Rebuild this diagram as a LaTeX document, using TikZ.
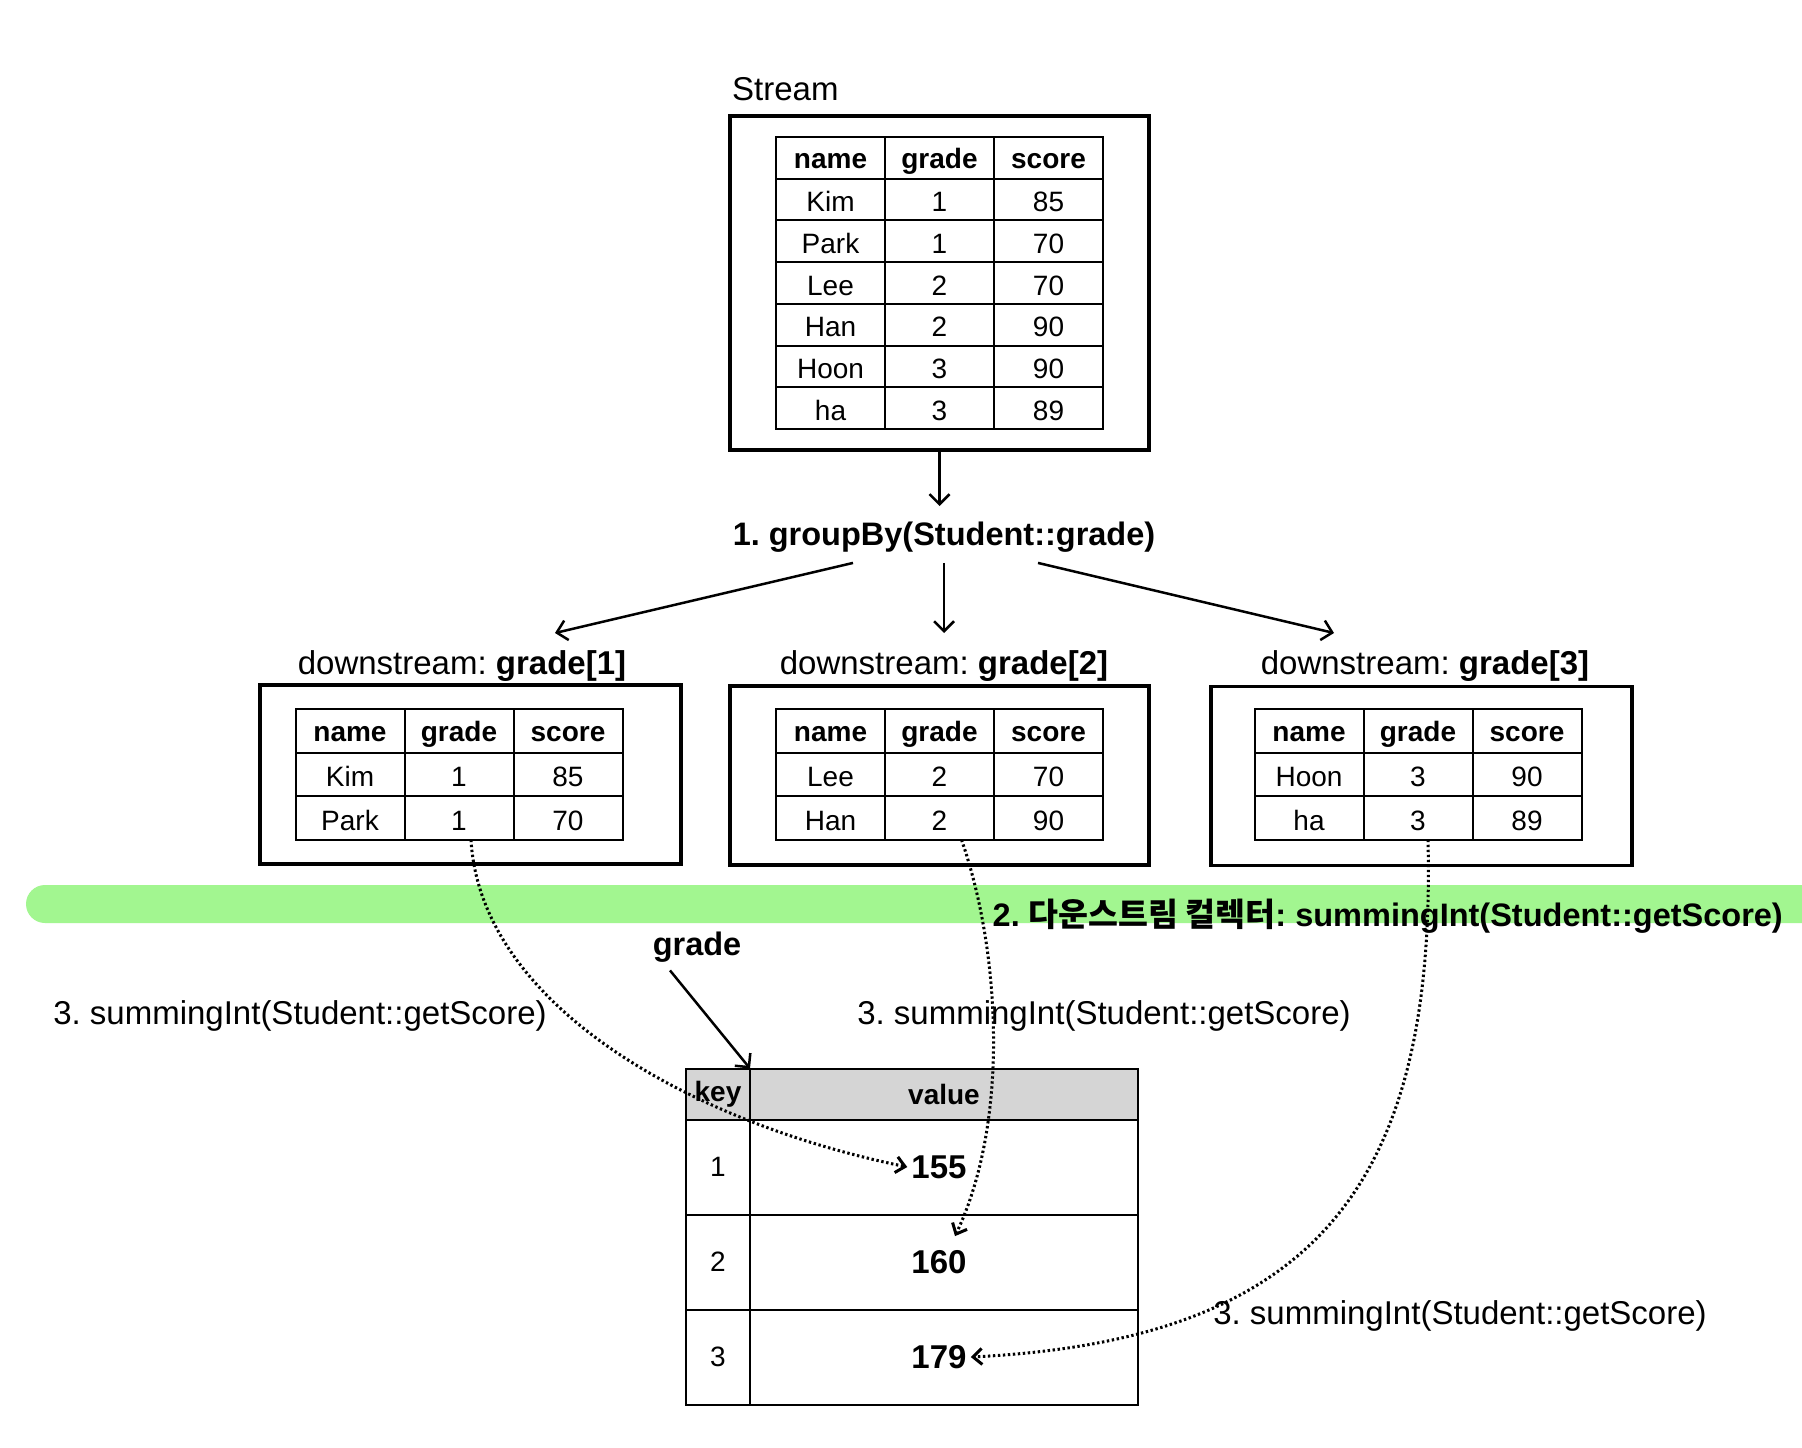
\documentclass[tikz,border=0pt]{standalone}
\usepackage{fontspec}
\setmainfont{Liberation Sans}
\newfontfamily\kr{Noto Sans CJK KR}
\usetikzlibrary{matrix,arrows.meta}
\definecolor{band}{RGB}{162,246,144}
\definecolor{hdr}{RGB}{213,213,213}
\tikzset{
  lbl/.style={inner sep=0pt, font=\fontsize{33}{40}\selectfont},
  blbl/.style={inner sep=0pt, font=\fontsize{32.5}{40}\selectfont\bfseries},
  frame/.style={draw, line width=3.5pt, inner sep=0pt},
  cell/.style={draw, line width=2pt, inner sep=0pt, outer sep=0pt, anchor=center,
    minimum width=109pt, text height=24pt, text depth=0pt,
    font=\fontsize{28}{34}\selectfont},
  datatable/.style={matrix of nodes, inner sep=0pt, outer sep=0pt,
    column sep=-2pt, row sep=-2pt, nodes={cell, minimum height=#1},
    row 1/.style={nodes={text height=21pt, font=\fontsize{28}{34}\selectfont\bfseries}}},
  arr/.style={line width=2.5pt, -{Straight Barb[length={10pt 0 0}, width={20pt 0 0}]}},
  dotarr/.style={line width=3pt, dash pattern=on 2.4pt off 2.6pt,
    -{Straight Barb[length={9pt 0 0}, width={16pt 0 0}]}},
  val/.style={inner sep=4pt, font=\fontsize{33}{40}\selectfont\bfseries},
}
\frenchspacing
\begin{document}
\begin{tikzpicture}[x=1pt, y=-1pt]
\useasboundingbox (0,0) rectangle (1802,1448);
\fill[white] (0,0) rectangle (1802,1448);

% collector band
\fill[band, rounded corners=19pt] (26,885) rectangle (1850,923);

% source stream
\node[lbl, anchor=west] (slbl) at (732,89) {Stream};
\node[frame, minimum width=419pt, minimum height=334pt] (stream) at (939.5,283) {};
\matrix (st) [datatable=41.7pt] at (939.5,283) {
  name & grade & score \\
  Kim  & 1 & 85 \\
  Park & 1 & 70 \\
  Lee  & 2 & 70 \\
  Han  & 2 & 90 \\
  Hoon & 3 & 90 \\
  ha   & 3 & 89 \\
};

% grouping step
\node[blbl, inner ysep=10pt] (gb) at (944,537.5) {1. groupBy(Student::grade)};
\coordinate (g1) at (555,633);
\coordinate (g3) at (1334,633);
\draw[arr] (stream.south) -- (stream.south |- 0,506);
\draw[arr] ([xshift=-91pt]gb.south) -- (g1);
\draw[arr] (gb.south) -- (gb.south |- g1);
\draw[arr] ([xshift=94pt]gb.south) -- (g3);

% downstreams
\node[lbl] (dl1) at (462,666.5) {downstream: \textbf{grade[1]}};
\node[lbl] (dl2) at (944,666.5) {downstream: \textbf{grade[2]}};
\node[lbl] (dl3) at (1425,666.5) {downstream: \textbf{grade[3]}};

\node[frame, minimum width=421pt, minimum height=179pt] (box1) at (470.5,774.5) {};
\node[frame, minimum width=419pt, minimum height=179pt] (box2) at (939.5,775.5) {};
\node[frame, minimum width=421pt, minimum height=179pt] (box3) at (1421.5,776) {};

\matrix (d1) [datatable=43.5pt] at (459,774.5) {
  name & grade & score \\
  Kim  & 1 & 85 \\
  Park & 1 & 70 \\
};
\matrix (d2) [datatable=43.5pt] at (939.5,774.5) {
  name & grade & score \\
  Lee  & 2 & 70 \\
  Han  & 2 & 90 \\
};
\matrix (d3) [datatable=43.5pt] at (1418,774.5) {
  name & grade & score \\
  Hoon & 3 & 90 \\
  ha   & 3 & 89 \\
};

% collector label
\node[blbl, anchor=east] (step2) at (1783,916)
  {2. {\kr 다운스트림 컬렉터}: summingInt(Student::getScore)};

% result map
\node[blbl] (gl) at (697,947) {grade};
\matrix (res) [matrix of nodes, nodes in empty cells, inner sep=0pt, outer sep=0pt,
  column sep=-2pt, row sep=-2pt,
  nodes={draw, line width=2pt, inner sep=0pt, outer sep=0pt, anchor=center,
    minimum height=95pt, font=\fontsize{28}{34}\selectfont},
  column 1/.style={nodes={minimum width=64pt}},
  column 2/.style={nodes={minimum width=388pt}},
  row 1/.style={nodes={minimum height=51pt, fill=hdr,
    font=\fontsize{28}{34}\selectfont\bfseries}}]
  at (912,1236.5) {
  key & value \\
  1 & \\
  2 & \\
  3 & \\
};
\node[val] (v1) at ([xshift=-5pt]res-2-2.center) {155};
\node[val] (v2) at ([xshift=-5pt]res-3-2.center) {160};
\node[val] (v3) at ([xshift=-5pt]res-4-2.center) {179};

\draw[arr] ([xshift=-27pt,yshift=-8pt]gl.south) -- (res-1-1.north east);

\node[lbl] (s1) at (300,1015.5) {3. summingInt(Student::getScore)};
\node[lbl] (s2) at (1104,1015.5) {3. summingInt(Student::getScore)};
\node[lbl] (s3) at (1460,1315.5) {3. summingInt(Student::getScore)};

% summing flows
\draw[dotarr] ([xshift=12pt]d1-3-2.south) .. controls (480,1000) and (680,1120) .. (v1.west);
\draw[dotarr] ([xshift=22pt]d2-3-2.south) .. controls (1000,950) and (1010,1120) .. ([xshift=16pt,yshift=10pt]v2.north);
\draw[dotarr] ([xshift=10pt]d3-3-2.south) .. controls (1436,1180) and (1320,1340) .. (v3.east);
\end{tikzpicture}
\end{document}
